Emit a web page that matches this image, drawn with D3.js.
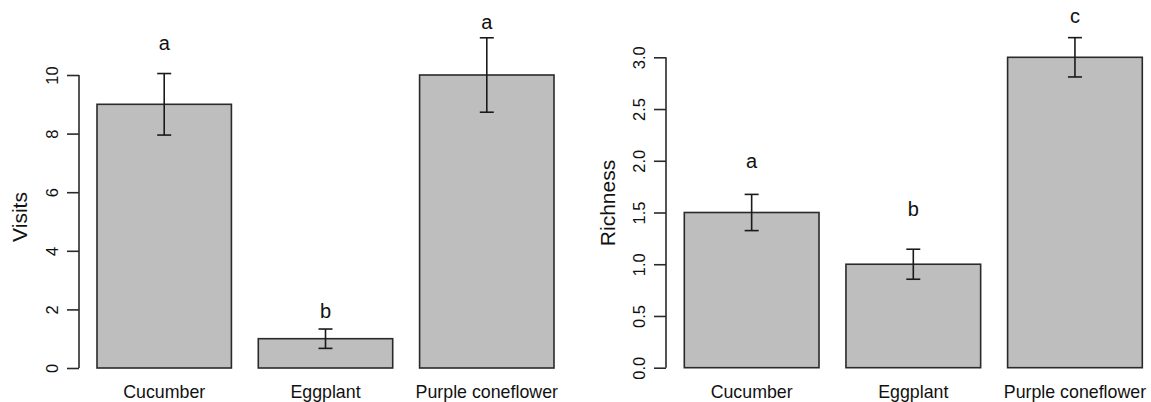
<!DOCTYPE html>
<html>
<head>
<meta charset="utf-8">
<script src="https://cdn.jsdelivr.net/npm/d3@7"></script>
<style>
  body { margin: 0; background: #fff; }
  svg { display: block; font-family: "Liberation Sans", Arial, sans-serif; }
</style>
</head>
<body>
<div id="chart"></div>
<script>
const categories = ["Cucumber", "Eggplant", "Purple coneflower"];

// left panel: visits
const visits = [9, 1, 10];
const visitsErr = [1.05, 0.33, 1.27];
const visitsLetters = ["a", "b", "a"];
const visitsLetterY = [11.1, 1.95, 11.8];
const visitsTicks = [0, 2, 4, 6, 8, 10];

// right panel: richness
const richness = [1.5, 1.0, 3.0];
const richnessErr = [0.175, 0.145, 0.19];
const richnessLetters = ["a", "b", "c"];
const richnessLetterY = [2.0, 1.53, 3.4];
const richnessTicks = [0, 0.5, 1, 1.5, 2, 2.5, 3];

const width = 1151, height = 402;
const svg = d3.select('#chart').append('svg')
    .attr('width', width)
    .attr('height', height);

function panel(opts) {
    const g = svg.append('g');
    const x = d3.scaleLinear().domain([0.2, 3.6]).range(opts.xRange);
    const y = d3.scaleLinear().domain(opts.yDomain).range(opts.yRange);
    const bw = x(1.2) - x(0.2);

    const data = categories.map((c, i) => ({
        name: c,
        value: opts.values[i],
        err: opts.errs[i],
        letter: opts.letters[i],
        ly: opts.letterY[i],
        left: x(0.2 + i * 1.2)
    }));

    g.selectAll('rect.bar')
        .data(data)
        .enter()
        .append('rect')
        .attr('class', 'bar')
        .attr('x', d => d.left)
        .attr('y', d => y(d.value))
        .attr('width', bw)
        .attr('height', d => y(0) - y(d.value))
        .attr('fill', '#bebebe')
        .attr('stroke', '#2a2a2a')
        .attr('stroke-width', 1.6);

    // error bars
    const eb = g.selectAll('g.err')
        .data(data)
        .enter()
        .append('g')
        .attr('class', 'err')
        .attr('stroke', '#1a1a1a')
        .attr('stroke-width', 1.6);
    eb.append('line')
        .attr('x1', d => d.left + bw / 2).attr('x2', d => d.left + bw / 2)
        .attr('y1', d => y(d.value + d.err)).attr('y2', d => y(d.value - d.err));
    eb.append('line')
        .attr('x1', d => d.left + bw / 2 - 7).attr('x2', d => d.left + bw / 2 + 7)
        .attr('y1', d => y(d.value + d.err)).attr('y2', d => y(d.value + d.err));
    eb.append('line')
        .attr('x1', d => d.left + bw / 2 - 7).attr('x2', d => d.left + bw / 2 + 7)
        .attr('y1', d => y(d.value - d.err)).attr('y2', d => y(d.value - d.err));

    // significance letters
    g.selectAll('text.letter')
        .data(data)
        .enter()
        .append('text')
        .attr('class', 'letter')
        .attr('x', d => d.left + bw / 2)
        .attr('y', d => y(d.ly))
        .attr('dy', '0.35em')
        .attr('text-anchor', 'middle')
        .style('font-size', '20px')
        .attr('fill', '#111')
        .text(d => d.letter);

    // category labels
    g.selectAll('text.cat')
        .data(data)
        .enter()
        .append('text')
        .attr('class', 'cat')
        .attr('x', d => d.left + bw / 2)
        .attr('y', 398)
        .attr('text-anchor', 'middle')
        .style('font-size', '17.8px')
        .attr('fill', '#111')
        .text(d => d.name);

    // y axis, labels parallel to axis like R
    const axis = g.append('g')
        .attr('transform', `translate(${opts.axisX},0)`)
        .call(d3.axisLeft(y).tickValues(opts.ticks).tickSize(12).tickFormat(opts.fmt));
    axis.select('.domain')
        .attr('d', `M0,${y(opts.ticks[0])}V${y(opts.ticks[opts.ticks.length - 1])}`)
        .attr('stroke', '#2a2a2a').attr('stroke-width', 1.6);
    axis.selectAll('.tick line').attr('stroke', '#2a2a2a').attr('stroke-width', 1.6);
    axis.selectAll('.tick text')
        .attr('x', null).attr('dy', null)
        .attr('transform', 'translate(-21,0) rotate(-90)')
        .attr('text-anchor', 'middle')
        .attr('fill', '#111')
        .style('font-size', '16.5px')
        .attr('font-family', null);

    g.append('text')
        .attr('transform', `translate(${opts.titleX},${opts.titleY}) rotate(-90)`)
        .attr('text-anchor', 'middle')
        .attr('dy', '0.35em')
        .style('font-size', '21px')
        .attr('fill', '#111')
        .text(opts.title);
}

panel({
    xRange: [97, 554],
    yDomain: [0, 10],
    yRange: [368, 75],
    values: visits, errs: visitsErr, letters: visitsLetters, letterY: visitsLetterY,
    ticks: visitsTicks, fmt: d3.format('d'),
    axisX: 79, titleX: 20, titleY: 217, title: 'Visits'
});

panel({
    xRange: [684.3, 1142.3],
    yDomain: [0, 3],
    yRange: [367.7, 57.3],
    values: richness, errs: richnessErr, letters: richnessLetters, letterY: richnessLetterY,
    ticks: richnessTicks, fmt: d3.format('.1f'),
    axisX: 666, titleX: 608, titleY: 203, title: 'Richness'
});
</script>
</body>
</html>
